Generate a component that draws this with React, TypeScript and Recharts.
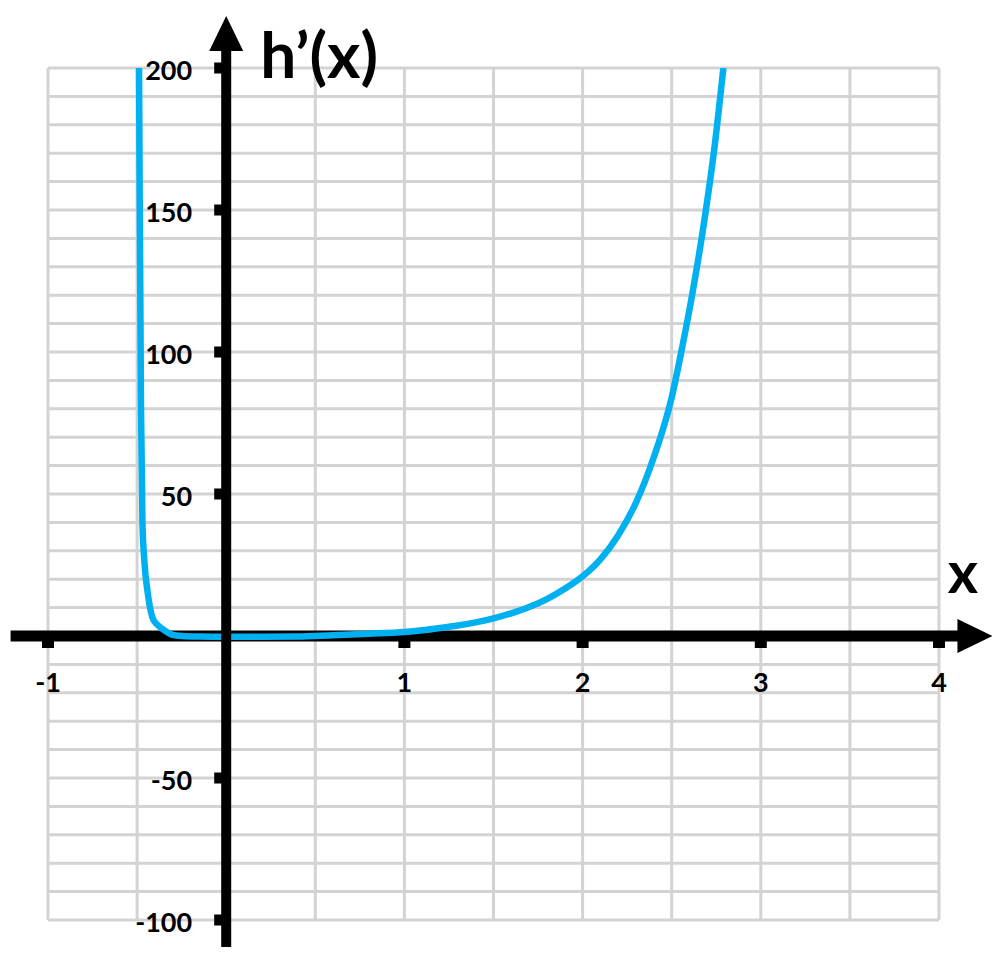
import React from "react";
import {
  ComposedChart,
  Line,
  XAxis,
  YAxis,
  CartesianGrid,
  ReferenceLine,
  ReferenceDot,
} from "recharts";

// ---- data ----
const curveX = [
  -0.489, -0.486, -0.482, -0.478, -0.47, -0.46, -0.44, -0.415, -0.39, -0.365,
  -0.33, -0.3, -0.25, -0.15, 0, 0.2, 0.4, 0.6, 0.8, 1.0, 1.1, 1.2, 1.3, 1.4,
  1.5, 1.6, 1.7, 1.8, 1.9, 2.0, 2.1, 2.2, 2.3, 2.4, 2.5, 2.56, 2.62, 2.68, 2.74,
  2.79,
];
const curveY = [
  200, 160, 120, 80, 40, 27, 15, 6.7, 4.2, 2.8, 1.3, 0.4, 0, -0.2, -0.3, -0.3,
  -0.2, 0.3, 0.8, 1.4, 2.0, 2.8, 3.7, 4.8, 6.2, 8.0, 10.2, 13, 16.6, 21, 27,
  35.5, 47, 63, 84, 102, 122, 145, 172, 200,
];

const xGridTicks = [-1, -0.5, 0, 0.5, 1, 1.5, 2, 2.5, 3, 3.5, 4];
const yGridTicks = [
  -100, -90, -80, -70, -60, -50, -40, -30, -20, -10, 0, 10, 20, 30, 40, 50, 60,
  70, 80, 90, 100, 110, 120, 130, 140, 150, 160, 170, 180, 190, 200,
];
const xLabelTicks = [-1, 1, 2, 3, 4];
const yLabelTicks = [-100, -50, 50, 100, 150, 200];

const xDomain = [-1, 4];
const yDomain = [-100, 200];

// axis line extents (data units) – arrows extend past the grid
const xAxisStart = -1.21;
const xAxisArrowBase = 4.11;
const xAxisTip = 4.3;
const yAxisStart = -109.5;
const yAxisArrowBase = 206;
const yAxisTip = 218.3;

const yAxisTitle = "h’(x)";
const xAxisTitle = "x";

const data = curveX.map((x, i) => ({ x, y: curveY[i] }));

const FONT = "Lato, 'Open Sans', sans-serif";
const BLUE = "#00b0f0";

const UpArrow = (props: any) => {
  const { cx, cy } = props;
  if (cx == null || cy == null) return null;
  return (
    <polygon
      points={`${cx},${cy} ${cx - 17},${cy + 35} ${cx + 17},${cy + 35}`}
      fill="#000"
    />
  );
};

const RightArrow = (props: any) => {
  const { cx, cy } = props;
  if (cx == null || cy == null) return null;
  return (
    <polygon
      points={`${cx},${cy} ${cx - 35},${cy - 17} ${cx - 35},${cy + 17}`}
      fill="#000"
    />
  );
};

const YTick = (props: any) => {
  const { cx, cy, label } = props;
  if (cx == null || cy == null) return null;
  return (
    <g>
      <rect x={cx - 12} y={cy - 5.5} width={8} height={11} fill="#000" />
      <text
        x={cx - 34}
        y={cy + 1}
        textAnchor="end"
        dominantBaseline="central"
        fontFamily={FONT}
        fontWeight={700}
        fontSize={27}
        fill="#000"
      >
        {label}
      </text>
    </g>
  );
};

const XTick = (props: any) => {
  const { cx, cy, label } = props;
  if (cx == null || cy == null) return null;
  return (
    <g>
      <rect x={cx - 6} y={cy + 5} width={12} height={7} fill="#000" />
      <text
        x={cx}
        y={cy + 56}
        textAnchor="middle"
        fontFamily={FONT}
        fontWeight={700}
        fontSize={27}
        fill="#000"
      >
        {label}
      </text>
    </g>
  );
};

const YTitle = (props: any) => {
  const { cx, cy } = props;
  if (cx == null || cy == null) return null;
  return (
    <text
      x={cx + 34}
      y={cy + 10}
      textAnchor="start"
      fontFamily={FONT}
      fontWeight={700}
      fontSize={64}
      fill="#000"
    >
      {yAxisTitle}
    </text>
  );
};

const XTitle = (props: any) => {
  const { cx, cy } = props;
  if (cx == null || cy == null) return null;
  return (
    <text
      x={cx + 24}
      y={cy - 43}
      textAnchor="middle"
      fontFamily={FONT}
      fontWeight={700}
      fontSize={58}
      fill="#000"
    >
      {xAxisTitle}
    </text>
  );
};

export default function App() {
  return (
    <div style={{ width: 984, height: 958 }}>
      <ComposedChart
        width={984}
        height={958}
        data={data}
        margin={{ top: 60, right: 53, bottom: 46, left: 40 }}
      >
        <CartesianGrid stroke="#d3d3d3" strokeWidth={3} />
        <XAxis
          type="number"
          dataKey="x"
          domain={xDomain}
          ticks={xGridTicks}
          interval={0}
          allowDataOverflow
          hide
        />
        <YAxis
          type="number"
          domain={yDomain}
          ticks={yGridTicks}
          interval={0}
          allowDataOverflow
          hide
        />
        <ReferenceLine
          segment={[
            { x: xAxisStart, y: 0 },
            { x: xAxisArrowBase, y: 0 },
          ]}
          stroke="#000"
          strokeWidth={11}
          ifOverflow="visible"
        />
        <ReferenceDot
          x={xAxisTip}
          y={0}
          ifOverflow="visible"
          shape={(p: any) => <RightArrow {...p} />}
        />
        <Line
          type="monotone"
          dataKey="y"
          stroke={BLUE}
          strokeWidth={6.5}
          dot={false}
          activeDot={false}
          isAnimationActive={false}
          strokeLinejoin="round"
          strokeLinecap="butt"
        />
        <ReferenceLine
          segment={[
            { x: 0, y: yAxisStart },
            { x: 0, y: yAxisArrowBase },
          ]}
          stroke="#000"
          strokeWidth={10}
          ifOverflow="visible"
        />
        <ReferenceDot
          x={0}
          y={yAxisTip}
          ifOverflow="visible"
          shape={(p: any) => <UpArrow {...p} />}
        />
        {yLabelTicks.map((v) => (
          <ReferenceDot
            key={`yt${v}`}
            x={0}
            y={v}
            ifOverflow="visible"
            shape={(p: any) => <YTick {...p} label={String(v)} />}
          />
        ))}
        {xLabelTicks.map((v) => (
          <ReferenceDot
            key={`xt${v}`}
            x={v}
            y={0}
            ifOverflow="visible"
            shape={(p: any) => <XTick {...p} label={String(v)} />}
          />
        ))}
        <ReferenceDot
          x={0}
          y={200}
          ifOverflow="visible"
          shape={(p: any) => <YTitle {...p} />}
        />
        <ReferenceDot
          x={4}
          y={0}
          ifOverflow="visible"
          shape={(p: any) => <XTitle {...p} />}
        />
      </ComposedChart>
    </div>
  );
}
